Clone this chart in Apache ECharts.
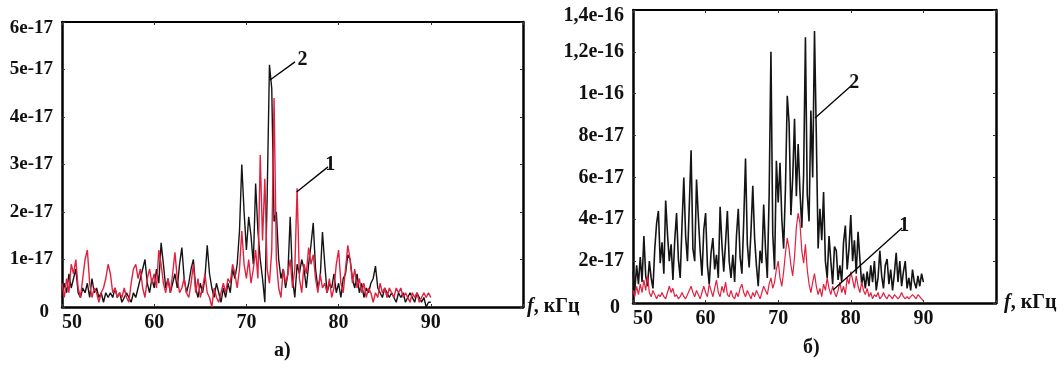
<!DOCTYPE html>
<html>
<head>
<meta charset="utf-8">
<script src="https://cdn.jsdelivr.net/npm/echarts@6/dist/echarts.min.js"></script>
<style>
  html, body { margin: 0; padding: 0; background: #fff; }
  #chart { width: 1064px; height: 369px; }
</style>
</head>
<body>
<div id="chart"></div>
<script>
// частоты, кГц (шаг 0,25)
const freqs = [
  50, 50.25, 50.5, 50.75, 51, 51.25, 51.5, 51.75, 52, 52.25, 52.5, 52.75, 53, 53.25, 53.5, 53.75,
  54, 54.25, 54.5, 54.75, 55, 55.25, 55.5, 55.75, 56, 56.25, 56.5, 56.75, 57, 57.25, 57.5, 57.75,
  58, 58.25, 58.5, 58.75, 59, 59.25, 59.5, 59.75, 60, 60.25, 60.5, 60.75, 61, 61.25, 61.5, 61.75,
  62, 62.25, 62.5, 62.75, 63, 63.25, 63.5, 63.75, 64, 64.25, 64.5, 64.75, 65, 65.25, 65.5, 65.75,
  66, 66.25, 66.5, 66.75, 67, 67.25, 67.5, 67.75, 68, 68.25, 68.5, 68.75, 69, 69.25, 69.5, 69.75,
  70, 70.25, 70.5, 70.75, 71, 71.25, 71.5, 71.75, 72, 72.25, 72.5, 72.75, 73, 73.25, 73.5, 73.75,
  74, 74.25, 74.5, 74.75, 75, 75.25, 75.5, 75.75, 76, 76.25, 76.5, 76.75, 77, 77.25, 77.5, 77.75,
  78, 78.25, 78.5, 78.75, 79, 79.25, 79.5, 79.75, 80, 80.25, 80.5, 80.75, 81, 81.25, 81.5, 81.75,
  82, 82.25, 82.5, 82.75, 83, 83.25, 83.5, 83.75, 84, 84.25, 84.5, 84.75, 85, 85.25, 85.5, 85.75,
  86, 86.25, 86.5, 86.75, 87, 87.25, 87.5, 87.75, 88, 88.25, 88.5, 88.75, 89, 89.25, 89.5, 89.75,
  90
]

// а) — значения в единицах 1e-17
const aCurve1 = [
  0.5, 0.2, 0.6, 0.3, 0.9, 0.7, 1.0, 0.4, 0.2, 0.6, 1.0, 1.2, 0.5, 0.2, 0.4, 0.3,
  0.1, 0.3, 0.4, 0.6, 0.9, 0.7, 0.3, 0.4, 0.2, 0.3, 0.2, 0.4, 0.2, 0.1, 0.5, 0.8,
  0.9, 0.6, 0.8, 0.4, 0.2, 0.6, 0.8, 0.5, 0.7, 0.4, 1.2, 0.9, 0.5, 0.3, 0.6, 0.3,
  0.7, 1.15, 0.6, 0.3, 0.4, 0.6, 0.3, 0.2, 0.5, 0.9, 0.3, 0.6, 0.2, 0.4, 0.7, 0.3,
  0.2, 0.0, 0.4, 0.2, 0.1, 0.3, 0.5, 0.3, 0.6, 0.5, 0.9, 0.7, 0.4, 0.8, 1.6, 0.9,
  0.6, 1.0, 0.5, 0.8, 1.2, 0.6, 3.2, 1.4, 2.7, 0.8, 0.5, 1.2, 4.4, 1.0, 0.4, 0.2,
  0.8, 0.5, 0.7, 1.0, 0.4, 0.8, 2.5, 0.6, 0.3, 0.9, 0.7, 1.25, 0.9, 1.1, 0.6, 0.3,
  0.7, 0.4, 0.5, 0.3, 0.6, 0.2, 0.4, 0.9, 1.2, 0.5, 0.3, 0.8, 1.3, 1.0, 0.5, 0.8,
  0.4, 0.6, 0.3, 0.5, 0.2, 0.4, 0.3, 0.1, 0.3, 0.2, 0.5, 0.3, 0.4, 0.2, 0.4, 0.3,
  0.2, 0.4, 0.3, 0.4, 0.2, 0.3, 0.2, 0.1, 0.3, 0.2, 0.3, 0.1, 0.2, 0.3, 0.2, 0.3,
  0.2
]
const aCurve2 = [
  0.2, 0.5, 0.3, 0.7, 0.4, 0.6, 0.8, 0.3, 0.2, 0.4, 0.3, 0.5, 0.2, 0.6, 0.3, 0.4,
  0.2, 0.3, 0.1, 0.3, 0.2, 0.3, 0.2, 0.4, 0.2, 0.3, 0.1, 0.2, 0.3, 0.2, 0.1, 0.3,
  0.2, 0.4, 0.6, 0.8, 1.0, 0.5, 0.3, 0.6, 0.4, 0.8, 0.5, 1.35, 0.9, 0.4, 0.6, 0.3,
  0.5, 0.7, 0.4, 0.9, 1.25, 0.6, 0.3, 0.5, 0.8, 1.0, 0.4, 0.2, 0.5, 0.3, 0.6, 1.3,
  0.7, 0.4, 0.2, 0.5, 0.3, 0.1, 0.4, 0.2, 0.5, 0.3, 0.8, 0.6, 0.9, 1.6, 3.0, 2.0,
  1.2, 1.9, 1.5, 0.9, 2.6, 1.6, 1.0, 0.6, 0.1, 2.3, 5.1, 4.6, 1.8, 2.0, 1.0, 0.6,
  0.8, 0.4, 0.7, 1.9, 0.6, 0.2, 0.9, 0.7, 1.0, 0.8, 0.4, 0.9, 1.3, 1.77, 0.8, 0.4,
  0.6, 1.58, 0.9, 0.3, 0.5, 0.4, 0.7, 0.3, 0.5, 0.2, 0.6, 0.7, 1.1, 1.0, 0.6, 0.4,
  0.7, 0.3, 0.5, 0.2, 0.4, 0.3, 0.5, 0.6, 0.86, 0.4, 0.3, 0.2, 0.4, 0.3, 0.2, 0.3,
  0.2, 0.1, 0.3, 0.2, 0.3, 0.1, 0.2, 0.3, 0.2, 0.1, 0.3, 0.2, 0.1, 0.2, 0.0, 0.1,
  0.1
]

// б) — значения в единицах 1e-17
const bCurve1 = [
  0.6, 0.3, 0.8, 0.4, 0.9, 0.5, 1.1, 0.6, 1.3, 0.5, 0.3, 0.6, 0.4, 0.2, 0.4, 0.3,
  0.5, 0.3, 0.2, 0.5, 0.8, 0.5, 0.7, 0.3, 0.4, 0.2, 0.3, 0.5, 0.3, 0.2, 0.4, 0.6,
  0.8, 0.5, 0.3, 0.6, 0.4, 0.2, 0.5, 0.8, 0.5, 0.3, 0.9, 0.6, 0.3, 0.7, 1.1, 0.5,
  0.3, 0.8, 0.5, 1.0, 0.4, 0.3, 0.6, 0.3, 0.2, 0.5, 0.3, 0.7, 0.9, 0.5, 0.3, 0.6,
  0.4, 0.2, 0.5, 0.3, 0.6, 0.4, 0.2, 0.5, 0.8, 0.6, 0.4, 0.9, 1.2, 0.7, 1.0, 1.6,
  2.0, 1.2, 0.8, 1.5, 2.4, 3.1, 2.6, 1.8, 1.3, 2.2, 3.6, 4.3, 3.8, 2.5, 1.9, 2.8,
  1.6, 0.9, 0.5, 1.0, 1.4, 0.8, 0.4, 0.7, 0.3, 0.9, 0.6, 1.2, 0.7, 0.4, 0.8, 0.5,
  0.3, 0.6, 1.0, 0.5, 0.8, 0.4, 1.2, 0.9, 1.5, 1.1, 0.7, 1.3, 0.8, 0.5, 1.0, 0.6,
  0.4, 0.7, 0.3, 0.5, 0.2, 0.4, 0.3, 0.5, 0.2, 0.3, 0.5, 0.3, 0.2, 0.4, 0.3, 0.2,
  0.4, 0.3, 0.2, 0.3, 0.5, 0.3, 0.2, 0.3, 0.2, 0.3, 0.4, 0.3, 0.2, 0.4, 0.3, 0.2,
  0.1
]
const bCurve2 = [
  1.5, 0.6, 1.8, 0.9, 2.2, 1.0, 3.2, 1.3, 0.8, 2.0, 1.2, 0.7, 2.6, 3.8, 4.4, 1.9,
  2.9, 1.4, 4.9, 3.3, 2.0, 2.8, 1.1, 3.0, 4.3, 2.1, 1.2, 3.7, 6.0, 3.2, 2.0, 4.6,
  7.3, 2.6, 2.0, 5.9, 4.1, 2.5, 1.3, 3.5, 4.3, 1.8, 0.9, 2.4, 3.1, 1.6, 2.3, 1.2,
  4.6, 2.8, 1.5, 2.9, 4.4, 2.0, 1.2, 2.3, 1.0, 3.2, 4.5, 2.2, 1.4, 3.9, 6.9, 2.8,
  1.7, 3.4, 5.6, 3.1, 1.8, 0.8, 2.5, 1.9, 4.7, 2.6, 1.2, 5.1, 12.0, 3.3, 1.6, 6.8,
  4.8, 6.7, 4.0, 2.6, 5.5, 9.9, 8.6, 4.2, 6.0, 8.8, 5.1, 7.6, 5.3, 3.6, 6.1, 12.7,
  5.2, 3.9, 9.2, 6.0, 13.0, 8.0, 2.6, 4.5, 3.0, 5.3, 2.0, 1.2, 3.2, 2.0, 0.9, 2.7,
  2.5, 1.1, 1.8, 1.0, 2.9, 3.7, 1.6, 2.6, 4.2, 2.0, 3.0, 1.4, 3.4, 2.1, 0.9, 1.4,
  0.7, 1.5, 0.8, 1.8, 1.0, 2.0, 0.6, 1.2, 2.5, 1.3, 0.7, 1.8, 2.1, 0.9, 1.6, 0.6,
  1.4, 2.4, 1.0, 2.0, 0.8, 1.5, 2.0, 0.7, 1.2, 0.6, 1.6, 1.0, 0.7, 1.3, 0.8, 1.4,
  1.0
]

const xLabels = ['50', '60', '70', '80', '90', '']
const yLabelsA = ['0', '1e-17', '2e-17', '3e-17', '4e-17', '5e-17', '6e-17']
const yLabelsB = ['0', '2e-17', '4e-17', '6e-17', '8e-17', '1e-16', '1,2e-16', '1,4e-16']

const FONT = '"Liberation Serif", "Times New Roman", serif'
const RED = '#e3203f'
const BLACK = '#141414'

const pairs = (ys) => freqs.map((f, i) => [f, ys[i]])

// выноски «1», «2» (координаты в данных)
const leader = (from, to, text) => ({
  silent: true,
  symbol: ['none', 'none'],
  lineStyle: { color: '#000', width: 1.3, type: 'solid' },
  label: {
    show: true, position: 'end', distance: 3, formatter: text,
    fontFamily: FONT, fontWeight: 'bold', fontSize: 20, color: '#111'
  },
  emphasis: { disabled: true },
  animation: false,
  data: [[{ coord: from }, { coord: to }]]
})

const xAxisPair = (gi, gap) => [
  {
    gridIndex: gi, type: 'value', min: 50, max: 100, interval: 10, position: 'bottom',
    name: '{i|f}, кГц', nameLocation: 'end', nameGap: gap,
    nameTextStyle: {
      fontFamily: FONT, fontWeight: 'bold', fontSize: 20, color: '#111',
      rich: { i: { fontFamily: FONT, fontStyle: 'italic', fontSize: 20, color: '#111' } }
    },
    axisLine: { show: true, onZero: false, lineStyle: { color: '#000', width: 2.5 } },
    axisTick: { show: true, inside: true, length: 3, lineStyle: { color: '#333' } },
    axisLabel: {
      show: true, margin: 6, fontFamily: FONT, fontWeight: 'bold', fontSize: 20, color: '#111',
      alignMinLabel: 'left',
      formatter: (v) => xLabels[Math.round((v - 50) / 10)]
    },
    splitLine: { show: false }
  },
  {
    gridIndex: gi, type: 'value', min: 50, max: 100, interval: 10, position: 'top',
    axisLine: { show: true, onZero: false, lineStyle: { color: '#000', width: 2 } },
    axisTick: { show: true, inside: true, length: 3, lineStyle: { color: '#333' } },
    axisLabel: { show: false },
    splitLine: { show: false }
  }
]

const yAxisPair = (gi, max, step, labels, fs) => [
  {
    gridIndex: gi, type: 'value', min: 0, max: max, interval: step, position: 'left',
    axisLine: { show: true, onZero: false, lineStyle: { color: '#000', width: 2.5 } },
    axisTick: { show: true, inside: true, length: 3, lineStyle: { color: '#333' } },
    axisLabel: {
      show: true, margin: 9, fontFamily: FONT, fontWeight: 'bold', fontSize: fs, color: '#111',
      formatter: (v) => {
        const s = labels[Math.round(v / step)]
        if (v === max) return '{t|' + s + '}'
        if (v === 0) return '{z|' + s + '}'
        return s
      },
      rich: {
        t: { fontFamily: FONT, fontWeight: 'bold', fontSize: fs, color: '#111', padding: [12, 0, 0, 0] },
        z: { fontFamily: FONT, fontWeight: 'bold', fontSize: fs, color: '#111', padding: [10, 4, 0, 0] }
      }
    },
    splitLine: { show: false }
  },
  {
    gridIndex: gi, type: 'value', min: 0, max: max, interval: step, position: 'right',
    axisLine: { show: true, onZero: false, lineStyle: { color: '#000', width: 2.5 } },
    axisTick: { show: true, inside: true, length: 3, lineStyle: { color: '#333' } },
    axisLabel: { show: false },
    splitLine: { show: false }
  }
]

const line = (xi, yi, ys, color, width, extra) => Object.assign({
  type: 'line', xAxisIndex: xi, yAxisIndex: yi, data: pairs(ys),
  showSymbol: false, symbol: 'none', animation: false, silent: true,
  lineStyle: { color: color, width: width }, itemStyle: { color: color }
}, extra || {})

const chart = echarts.init(document.getElementById('chart'), null, { renderer: 'canvas' })
chart.setOption({
  backgroundColor: '#fff',
  animation: false,
  grid: [
    { left: 62, top: 22, width: 461, height: 285 },
    { left: 633, top: 10, width: 363, height: 293 }
  ],
  xAxis: [...xAxisPair(0, 4), ...xAxisPair(1, 8)],
  yAxis: [...yAxisPair(0, 6, 1, yLabelsA, 19), ...yAxisPair(1, 14, 2, yLabelsB, 20)],
  graphic: [
    { type: 'text', left: 274, top: 341, style: { text: 'а)', font: 'bold 20px ' + FONT, fill: '#111' } },
    { type: 'text', left: 803, top: 338, style: { text: 'б)', font: 'bold 20px ' + FONT, fill: '#111' } }
  ],
  series: [
    line(0, 0, aCurve2, BLACK, 1.4, { markLine: leader([72.56, 4.78], [75.27, 5.16], '2') }),
    line(0, 0, aCurve1, RED, 1.4, { markLine: leader([75.45, 2.42], [78.85, 2.95], '1') }),
    line(2, 2, bCurve2, BLACK, 1.6, { markLine: leader([75.07, 8.84], [80.17, 10.42], '2') }),
    line(2, 2, bCurve1, RED, 1.2, { markLine: leader([77.55, 0.62], [87.05, 3.58], '1') })
  ]
})
</script>
</body>
</html>
